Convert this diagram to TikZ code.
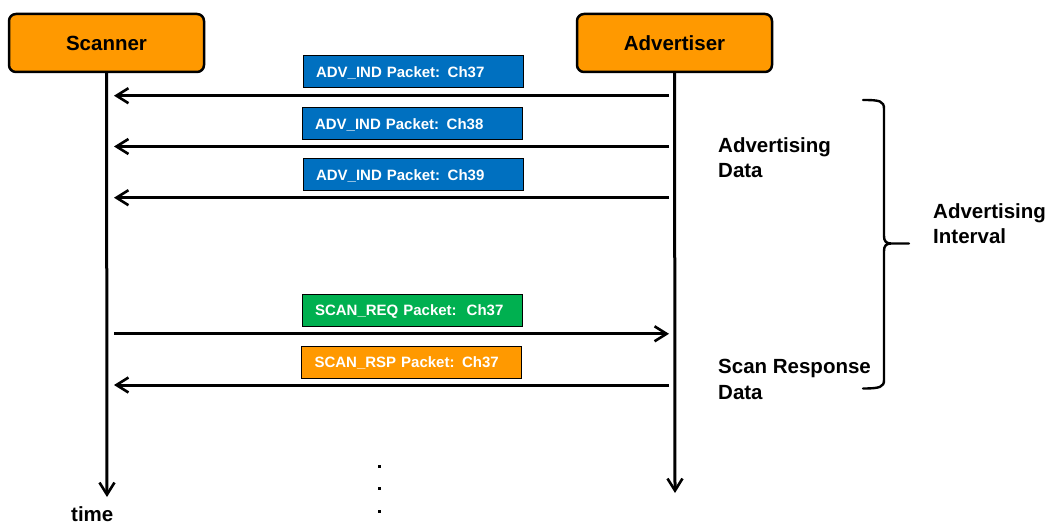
\documentclass[tikz,border=0pt]{standalone}
\usepackage{fontspec}
\setmainfont{Liberation Sans}
\usetikzlibrary{arrows.meta}
\definecolor{hdrorange}{HTML}{FF9900}
\definecolor{advblue}{HTML}{0070C0}
\definecolor{reqgreen}{HTML}{00B050}

\begin{document}
\begin{tikzpicture}[x=1pt, y=-1pt,
  actor/.style={draw=black, line width=2.5pt, fill=hdrorange, rounded corners=7pt,
    minimum width=195pt, minimum height=58pt, inner sep=0pt, text=black,
    text height=14.7pt, text depth=0pt,
    font=\fontsize{20.5}{24}\selectfont\bfseries},
  packet/.style={draw=black, line width=1pt, minimum height=32pt,
    text width=194pt, inner xsep=13pt, inner ysep=0pt, align=left,
    text height=10.7pt, text depth=0pt, text=white,
    font=\fontsize{15}{18}\selectfont\bfseries},
  tip/.style={-{Straight Barb[length=12pt, width=15pt, line width=2.6pt]}},
  lifeline/.style={line width=3pt, tip},
  msg/.style={line width=3pt, tip},
  note/.style={anchor=north west, inner sep=0pt, align=left,
    font=\fontsize{20.5}{25.5}\selectfont\bfseries},
  brace/.style={line width=2.4pt, line cap=round, line join=round}
]
\useasboundingbox (0,0) rectangle (1048,526);

% participants
\node[actor] (scanner) at (106.5,43) {Scanner};
\node[actor] (advertiser) at (674.5,43) {Advertiser};

% lifelines running down in time
\coordinate (sEnd) at (107,497);
\coordinate (aEnd) at (675,493);
\draw[lifeline] (scanner) -- (sEnd);
\draw[lifeline] (advertiser) -- (aEnd);

% end points of the messages on both lifelines
\coordinate (s1) at (114,95.7);  \coordinate (a1) at (669,95.7);
\coordinate (s2) at (114,146.5); \coordinate (a2) at (669,146.5);
\coordinate (s3) at (114,197.7); \coordinate (a3) at (669,197.7);
\coordinate (s4) at (114,333.8); \coordinate (a4) at (669,333.8);
\coordinate (s5) at (114,385);   \coordinate (a5) at (669,385);

% advertising packets
\node[packet, fill=advblue] (p1) at (413,72) {ADV\_IND Packet: Ch37};
\draw[msg] (a1) -- (s1);
\node[packet, fill=advblue] (p2) at (412,124) {ADV\_IND Packet: Ch38};
\draw[msg] (a2) -- (s2);
\node[packet, fill=advblue] (p3) at (413,175) {ADV\_IND Packet: Ch39};
\draw[msg] (a3) -- (s3);

% scan request / response
\node[packet, fill=reqgreen] (p4) at (412,310) {SCAN\_REQ Packet:\ \ Ch37};
\draw[msg] (s4) -- (a4);
\node[packet, fill=hdrorange] (p5) at (411.5,362) {SCAN\_RSP Packet: Ch37};
\draw[msg] (a5) -- (s5);

% side notes
\node[note] (advdata) at (718,137) {Advertising\\Data};
\node[note] (scandata) at (718,359) {Scan Response\\Data};
\node[note] (advint) at (933,203) {Advertising\\Interval};

% brace spanning one advertising interval
\draw[brace] (863,100) .. controls (880,100) and (884,101) .. (884,109)
  -- (884,236) .. controls (884,241) and (886,243.5) .. (891,243.5) -- (909,243.5)
  (891,243.5) .. controls (886,243.5) and (884,246) .. (884,251)
  -- (884,380) .. controls (884,387) and (880,388.5) .. (863,388.5);

% time axis label and continuation dots
\node[anchor=base west, inner sep=0pt, font=\fontsize{20.5}{24}\selectfont\bfseries] (time) at (71,521) {time};
\foreach \yy in {466,488.5,511} \fill (377.5,\yy-1.5) rectangle ++(3,3);
\end{tikzpicture}
\end{document}
